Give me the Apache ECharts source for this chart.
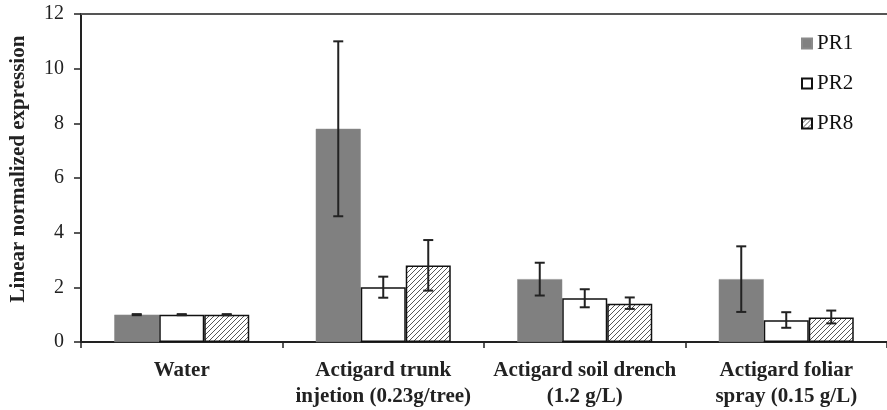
<!DOCTYPE html>
<html>
<head>
<meta charset="utf-8">
<script src="https://cdn.jsdelivr.net/npm/echarts@6/dist/echarts.min.js"></script>
<style>html,body{margin:0;padding:0;background:#fff;}#c{width:887px;height:410px;}</style>
</head>
<body>
<div id="c"></div>
<script>
const categories = ['Water', 'Actigard trunk\ninjetion (0.23g/tree)', 'Actigard soil drench\n(1.2 g/L)', 'Actigard foliar\nspray (0.15 g/L)'];
const seriesNames = ['PR1', 'PR2', 'PR8'];
const pr1 = [1.0, 7.8, 2.3, 2.3];
const pr1Low = [0.98, 4.6, 1.7, 1.1];
const pr1High = [1.02, 11.0, 2.9, 3.5];
const pr2 = [1.0, 2.0, 1.6, 0.8];
const pr2Low = [0.98, 1.62, 1.27, 0.52];
const pr2High = [1.02, 2.39, 1.93, 1.09];
const pr8 = [1.0, 2.8, 1.4, 0.9];
const pr8Low = [0.98, 1.88, 1.21, 0.68];
const pr8High = [1.02, 3.73, 1.63, 1.15];
const yTicks = [0, 2, 4, 6, 8, 10, 12];

// hatch pattern
const pc = document.createElement('canvas');
const S = 5;
pc.width = S; pc.height = S;
const g = pc.getContext('2d');
g.fillStyle = '#ffffff'; g.fillRect(0, 0, S, S);
g.strokeStyle = '#444444'; g.lineWidth = 0.9;
g.beginPath();
g.moveTo(-1, S + 1); g.lineTo(S + 1, -1);
g.moveTo(-1, 1); g.lineTo(1, -1);
g.moveTo(S - 1, S + 1); g.lineTo(S + 1, S - 1);
g.stroke();

const lows = [pr1Low, pr2Low, pr8Low];
const highs = [pr1High, pr2High, pr8High];
const errData = [];
for (let s = 0; s < 3; s++) {
  for (let i = 0; i < categories.length; i++) {
    errData.push([i, s, lows[s][i], highs[s][i]]);
  }
}

const chart = echarts.init(document.getElementById('c'));
const FONT = '"Liberation Serif", "Times New Roman", serif';
chart.setOption({
  animation: false,
  textStyle: { fontFamily: FONT },
  grid: { left: 81, top: 14, width: 808, bottom: 68, containLabel: false },
  legend: {
    data: seriesNames,
    orient: 'vertical',
    left: 796,
    top: 28,
    itemWidth: 10,
    itemHeight: 10,
    itemGap: 19,
    icon: 'rect',
    textStyle: { fontFamily: FONT, fontSize: 21, color: '#111' }
  },
  xAxis: [{
    type: 'category',
    data: categories,
    axisLine: { lineStyle: { color: '#222', width: 2 } },
    axisTick: { show: true, length: 6, lineStyle: { color: '#222', width: 1.5 } },
    axisLabel: { fontFamily: FONT, fontSize: 21, fontWeight: 'bold', color: '#222', margin: 16, lineHeight: 26, interval: 0 }
  }, {
    type: 'category',
    position: 'top',
    data: categories,
    axisLine: { show: true, lineStyle: { color: '#555', width: 2 } },
    axisTick: { show: false },
    axisLabel: { show: false }
  }],
  yAxis: {
    type: 'value',
    min: 0, max: 12, interval: 2,
    name: 'Linear normalized expression',
    nameLocation: 'middle',
    nameGap: 52,
    nameTextStyle: { fontFamily: FONT, fontSize: 21, fontWeight: 'bold', color: '#222', padding: [0, 0, 0, 18] },
    axisLine: { show: true, lineStyle: { color: '#222', width: 2 } },
    axisTick: { show: true, length: 7, lineStyle: { color: '#222', width: 1.5 } },
    axisLabel: { fontFamily: FONT, fontSize: 20, color: '#222', margin: 17,
      formatter: v => yTicks.includes(v) ? String(v) : '' },
    splitLine: { show: false }
  },
  series: [
    { name: 'PR1', type: 'bar', data: pr1, barGap: '0%', barCategoryGap: '33%',
      itemStyle: { color: '#808080', borderColor: '#8a8a8a', borderWidth: 0.5 } },
    { name: 'PR2', type: 'bar', data: pr2, barGap: '0%', barCategoryGap: '33%',
      itemStyle: { color: '#ffffff', borderColor: '#111', borderWidth: 1.5 } },
    { name: 'PR8', type: 'bar', data: pr8, barGap: '0%', barCategoryGap: '33%',
      itemStyle: { color: { image: pc, repeat: 'repeat' }, borderColor: '#111', borderWidth: 1.5 } },
    {
      name: 'err', type: 'custom', data: errData, z: 10,
      encode: { x: 0, y: [2, 3] },
      renderItem: function (params, api) {
        const ci = api.value(0), si = api.value(1);
        const lo = api.coord([ci, api.value(2)]);
        const hi = api.coord([ci, api.value(3)]);
        const cw = api.size([1, 0])[0];
        const bw = cw * (1 - 0.33) / 3;
        const x = lo[0] + (si - 1) * bw;
        const cap = 5;
        const st = { stroke: '#222', lineWidth: 2, fill: null };
        return { type: 'group', children: [
          { type: 'line', shape: { x1: x, y1: lo[1], x2: x, y2: hi[1] }, style: st },
          { type: 'line', shape: { x1: x - cap, y1: lo[1], x2: x + cap, y2: lo[1] }, style: st },
          { type: 'line', shape: { x1: x - cap, y1: hi[1], x2: x + cap, y2: hi[1] }, style: st }
        ] };
      }
    }
  ]
});
</script>
</body>
</html>
